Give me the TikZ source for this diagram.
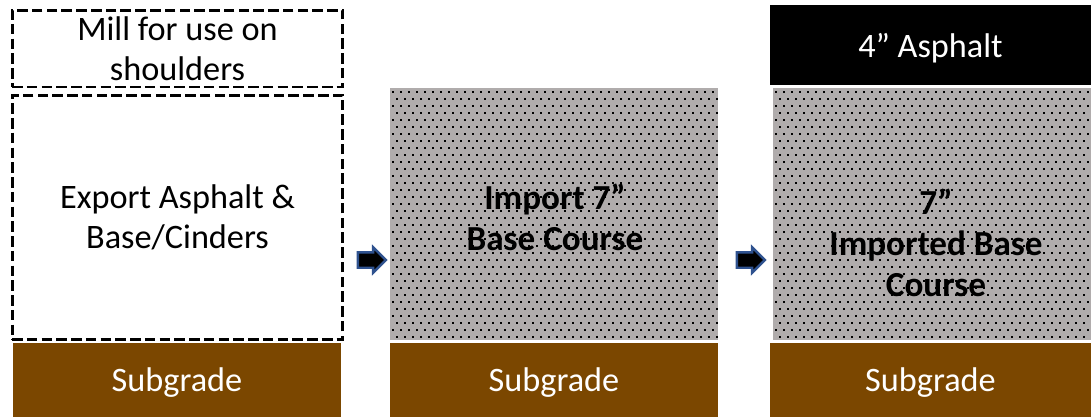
\documentclass[tikz,border=0pt]{standalone}
\usepackage{fontspec}
\setmainfont{Carlito}
\usetikzlibrary{calc}
\usetikzlibrary{shapes.arrows}
\definecolor{subbrown}{RGB}{123,71,0}
\definecolor{basegray}{RGB}{176,172,172}
\definecolor{arrowblue}{RGB}{47,82,143}
\newcommand{\layerfont}{\fontsize{19.5}{22.5}\selectfont}
\newcommand{\basefont}{\fontsize{20}{23.5}\selectfont\bfseries}
\tikzset{cutbox/.style={draw=black, line width=1.7pt,
  dash pattern=on 6pt off 2.4pt, inner sep=0pt, align=center,
  minimum width=6.62cm, font=\layerfont}}
\tikzset{subgrade/.style={fill=subbrown, text=white, inner sep=0pt,
  minimum height=1.48cm, text height=13.6pt, text depth=0pt, font=\layerfont}}
\tikzset{dotfill/.style={fill=basegray, inner sep=0pt,
  minimum height=5.04cm,
  path picture={
    \foreach \r in {0,...,37}{
      \foreach \c in {0,...,41}{
        \fill [black] ($(path picture bounding box.north west)+({2+\c*8+mod(\r,2)*4},{3+\r*7})$) rectangle ++(2,2);
      }
    }}}}
\tikzset{flowarrow/.style={single arrow, fill=black, draw=arrowblue,
  line width=1.4pt, inner xsep=0pt, inner ysep=0.13cm,
  text height=0pt, text depth=0pt, minimum height=0.56cm,
  single arrow head extend=0.1cm}}

\begin{document}
\begin{tikzpicture}[x=0.02cm, y=-0.02cm]
      \useasboundingbox (0, 0) rectangle (1091, 417);

      % before
      \node [cutbox, minimum height=1.54cm] (mill) at (177.5, 48.5) {Mill for use on\\shoulders};
      \node [cutbox, minimum height=4.9cm] (export) at (177.5, 217.5) {Export Asphalt \&\\Base/Cinders};
      \node [subgrade, minimum width=6.56cm] (sub1) at (177, 380) {Subgrade};

      % import base
      \node [dotfill, minimum width=6.56cm] (base2) at (554, 214) {};
      \node [align=center, font=\basefont] (imp2) at (555, 217) {Import 7”\\Base Course};
      \node [subgrade, minimum width=6.56cm] (sub2) at (554, 380) {Subgrade};

      % finished
      \node [fill=black, text=white, inner sep=0pt, minimum width=6.42cm, minimum height=1.6cm, text height=14.7pt, text depth=0pt, font=\layerfont] (asph) at (930.5, 45) {4” Asphalt};
      \node [dotfill, minimum width=6.36cm] (base3) at (932, 214) {};
      \node [align=center, font=\basefont] (imp3) at (936, 243) {7”\\Imported Base\\Course};
      \node [subgrade, minimum width=6.42cm] (sub3) at (930.5, 380) {Subgrade};

      \node [flowarrow] (arr1) at (368, 260) {};
      \node [flowarrow] (arr2) at (747, 260) {};
    \end{tikzpicture}
\end{document}
